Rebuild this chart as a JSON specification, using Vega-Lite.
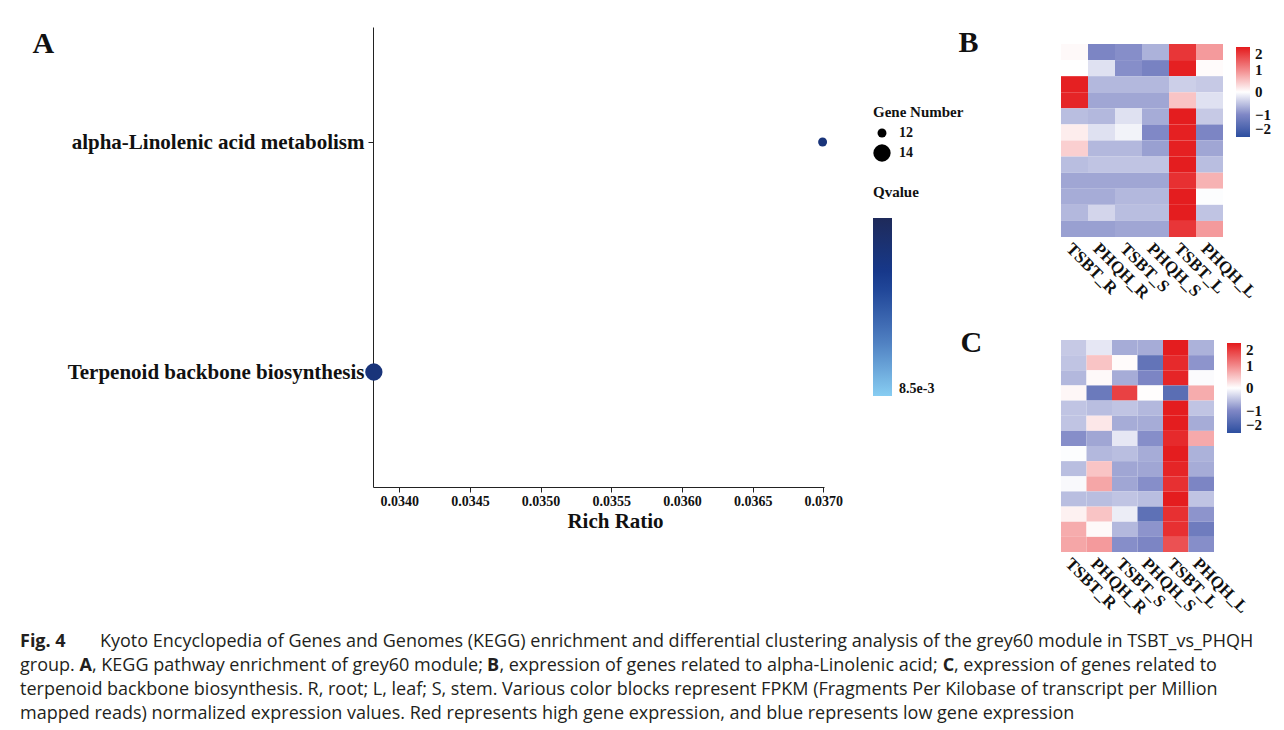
{
  "$schema": "https://vega.github.io/schema/vega-lite/v6.json",
  "background": "white",
  "padding": {"left": 20, "top": 27, "right": 0, "bottom": 0},
  "config": {
    "view": {"stroke": null},
    "font": "Liberation Serif",
    "axis": {"grid": false, "labelColor": "#111", "titleColor": "#111", "domainColor": "#222", "tickColor": "#222", "labelFont": "Liberation Serif", "titleFont": "Liberation Serif"},
    "legend": {"labelFont": "Liberation Serif", "titleFont": "Liberation Serif", "labelColor": "#111", "titleColor": "#111"}
  },
  "datasets": {
    "pathways": [
      {"pathway": "alpha-Linolenic acid metabolism", "richRatio": 0.036995, "geneNumber": 12, "qvalue": 0.0089},
      {"pathway": "Terpenoid backbone biosynthesis", "richRatio": 0.03382, "geneNumber": 14, "qvalue": 0.0089}
    ],
    "heatB": [
      {"g":1,"s":"TSBT_R","z":0.05},{"g":1,"s":"PHQH_R","z":-1.05},{"g":1,"s":"TSBT_S","z":-0.95},{"g":1,"s":"PHQH_S","z":-0.65},{"g":1,"s":"TSBT_L","z":1.75},{"g":1,"s":"PHQH_L","z":0.85},
      {"g":2,"s":"TSBT_R","z":0},{"g":2,"s":"PHQH_R","z":-0.25},{"g":2,"s":"TSBT_S","z":-0.95},{"g":2,"s":"PHQH_S","z":-1.1},{"g":2,"s":"TSBT_L","z":1.95},{"g":2,"s":"PHQH_L","z":0.03},
      {"g":3,"s":"TSBT_R","z":1.95},{"g":3,"s":"PHQH_R","z":-0.6},{"g":3,"s":"TSBT_S","z":-0.6},{"g":3,"s":"PHQH_S","z":-0.6},{"g":3,"s":"TSBT_L","z":-0.4},{"g":3,"s":"PHQH_L","z":-0.45},
      {"g":4,"s":"TSBT_R","z":1.9},{"g":4,"s":"PHQH_R","z":-0.75},{"g":4,"s":"TSBT_S","z":-0.75},{"g":4,"s":"PHQH_S","z":-0.75},{"g":4,"s":"TSBT_L","z":0.5},{"g":4,"s":"PHQH_L","z":-0.25},
      {"g":5,"s":"TSBT_R","z":-0.55},{"g":5,"s":"PHQH_R","z":-0.6},{"g":5,"s":"TSBT_S","z":-0.25},{"g":5,"s":"PHQH_S","z":-0.7},{"g":5,"s":"TSBT_L","z":1.97},{"g":5,"s":"PHQH_L","z":-0.45},
      {"g":6,"s":"TSBT_R","z":0.15},{"g":6,"s":"PHQH_R","z":-0.25},{"g":6,"s":"TSBT_S","z":-0.1},{"g":6,"s":"PHQH_S","z":-1.0},{"g":6,"s":"TSBT_L","z":1.95},{"g":6,"s":"PHQH_L","z":-1.05},
      {"g":7,"s":"TSBT_R","z":0.4},{"g":7,"s":"PHQH_R","z":-0.6},{"g":7,"s":"TSBT_S","z":-0.6},{"g":7,"s":"PHQH_S","z":-0.8},{"g":7,"s":"TSBT_L","z":1.95},{"g":7,"s":"PHQH_L","z":-0.75},
      {"g":8,"s":"TSBT_R","z":-0.55},{"g":8,"s":"PHQH_R","z":-0.5},{"g":8,"s":"TSBT_S","z":-0.5},{"g":8,"s":"PHQH_S","z":-0.5},{"g":8,"s":"TSBT_L","z":1.97},{"g":8,"s":"PHQH_L","z":-0.55},
      {"g":9,"s":"TSBT_R","z":-0.75},{"g":9,"s":"PHQH_R","z":-0.75},{"g":9,"s":"TSBT_S","z":-0.75},{"g":9,"s":"PHQH_S","z":-0.75},{"g":9,"s":"TSBT_L","z":1.8},{"g":9,"s":"PHQH_L","z":0.65},
      {"g":10,"s":"TSBT_R","z":-0.7},{"g":10,"s":"PHQH_R","z":-0.7},{"g":10,"s":"TSBT_S","z":-0.6},{"g":10,"s":"PHQH_S","z":-0.6},{"g":10,"s":"TSBT_L","z":1.97},{"g":10,"s":"PHQH_L","z":-0.02},
      {"g":11,"s":"TSBT_R","z":-0.6},{"g":11,"s":"PHQH_R","z":-0.35},{"g":11,"s":"TSBT_S","z":-0.55},{"g":11,"s":"PHQH_S","z":-0.55},{"g":11,"s":"TSBT_L","z":1.97},{"g":11,"s":"PHQH_L","z":-0.5},
      {"g":12,"s":"TSBT_R","z":-0.8},{"g":12,"s":"PHQH_R","z":-0.8},{"g":12,"s":"TSBT_S","z":-0.75},{"g":12,"s":"PHQH_S","z":-0.75},{"g":12,"s":"TSBT_L","z":1.75},{"g":12,"s":"PHQH_L","z":0.85}
    ],
    "heatC": [
      {"g":1,"s":"TSBT_R","z":-0.45},{"g":1,"s":"PHQH_R","z":-0.2},{"g":1,"s":"TSBT_S","z":-0.7},{"g":1,"s":"PHQH_S","z":-0.7},{"g":1,"s":"TSBT_L","z":1.97},{"g":1,"s":"PHQH_L","z":-0.65},
      {"g":2,"s":"TSBT_R","z":-0.5},{"g":2,"s":"PHQH_R","z":0.5},{"g":2,"s":"TSBT_S","z":0.03},{"g":2,"s":"PHQH_S","z":-1.35},{"g":2,"s":"TSBT_L","z":1.85},{"g":2,"s":"PHQH_L","z":-0.9},
      {"g":3,"s":"TSBT_R","z":-0.6},{"g":3,"s":"PHQH_R","z":0.05},{"g":3,"s":"TSBT_S","z":-0.7},{"g":3,"s":"PHQH_S","z":-1.05},{"g":3,"s":"TSBT_L","z":1.9},{"g":3,"s":"PHQH_L","z":-0.03},
      {"g":4,"s":"TSBT_R","z":0.07},{"g":4,"s":"PHQH_R","z":-1.25},{"g":4,"s":"TSBT_S","z":1.65},{"g":4,"s":"PHQH_S","z":0.02},{"g":4,"s":"TSBT_L","z":-1.45},{"g":4,"s":"PHQH_L","z":0.7},
      {"g":5,"s":"TSBT_R","z":-0.5},{"g":5,"s":"PHQH_R","z":-0.55},{"g":5,"s":"TSBT_S","z":-0.5},{"g":5,"s":"PHQH_S","z":-0.6},{"g":5,"s":"TSBT_L","z":1.97},{"g":5,"s":"PHQH_L","z":-0.5},
      {"g":6,"s":"TSBT_R","z":-0.5},{"g":6,"s":"PHQH_R","z":0.2},{"g":6,"s":"TSBT_S","z":-0.7},{"g":6,"s":"PHQH_S","z":-0.7},{"g":6,"s":"TSBT_L","z":1.97},{"g":6,"s":"PHQH_L","z":-0.7},
      {"g":7,"s":"TSBT_R","z":-0.95},{"g":7,"s":"PHQH_R","z":-0.75},{"g":7,"s":"TSBT_S","z":-0.2},{"g":7,"s":"PHQH_S","z":-0.95},{"g":7,"s":"TSBT_L","z":1.85},{"g":7,"s":"PHQH_L","z":0.72},
      {"g":8,"s":"TSBT_R","z":-0.02},{"g":8,"s":"PHQH_R","z":-0.6},{"g":8,"s":"TSBT_S","z":-0.55},{"g":8,"s":"PHQH_S","z":-0.7},{"g":8,"s":"TSBT_L","z":1.97},{"g":8,"s":"PHQH_L","z":-0.65},
      {"g":9,"s":"TSBT_R","z":-0.55},{"g":9,"s":"PHQH_R","z":0.5},{"g":9,"s":"TSBT_S","z":-0.75},{"g":9,"s":"PHQH_S","z":-0.75},{"g":9,"s":"TSBT_L","z":1.9},{"g":9,"s":"PHQH_L","z":-0.7},
      {"g":10,"s":"TSBT_R","z":-0.05},{"g":10,"s":"PHQH_R","z":0.75},{"g":10,"s":"TSBT_S","z":-0.75},{"g":10,"s":"PHQH_S","z":-0.95},{"g":10,"s":"TSBT_L","z":1.8},{"g":10,"s":"PHQH_L","z":-1.05},
      {"g":11,"s":"TSBT_R","z":-0.55},{"g":11,"s":"PHQH_R","z":-0.55},{"g":11,"s":"TSBT_S","z":-0.5},{"g":11,"s":"PHQH_S","z":-0.55},{"g":11,"s":"TSBT_L","z":1.97},{"g":11,"s":"PHQH_L","z":-0.5},
      {"g":12,"s":"TSBT_R","z":0.12},{"g":12,"s":"PHQH_R","z":0.5},{"g":12,"s":"TSBT_S","z":-0.15},{"g":12,"s":"PHQH_S","z":-1.4},{"g":12,"s":"TSBT_L","z":1.8},{"g":12,"s":"PHQH_L","z":-0.9},
      {"g":13,"s":"TSBT_R","z":0.7},{"g":13,"s":"PHQH_R","z":0.05},{"g":13,"s":"TSBT_S","z":-0.6},{"g":13,"s":"PHQH_S","z":-0.9},{"g":13,"s":"TSBT_L","z":1.8},{"g":13,"s":"PHQH_L","z":-1.2},
      {"g":14,"s":"TSBT_R","z":0.75},{"g":14,"s":"PHQH_R","z":0.85},{"g":14,"s":"TSBT_S","z":-0.95},{"g":14,"s":"PHQH_S","z":-1.05},{"g":14,"s":"TSBT_L","z":1.5},{"g":14,"s":"PHQH_L","z":-0.95}
    ],
    "caption": [
      {"line": 1, "part": "b1", "text": "Fig. 4"},
      {"line": 1, "part": "p1", "text": "Kyoto Encyclopedia of Genes and Genomes (KEGG) enrichment and differential clustering analysis of the grey60 module in TSBT_vs_PHQH"},
      {"line": 2, "part": "p0", "text": "group."},
      {"line": 2, "part": "bA", "text": "A"},
      {"line": 2, "part": "pA", "text": ", KEGG pathway enrichment of grey60 module;"},
      {"line": 2, "part": "bB", "text": "B"},
      {"line": 2, "part": "pB", "text": ", expression of genes related to alpha-Linolenic acid;"},
      {"line": 2, "part": "bC", "text": "C"},
      {"line": 2, "part": "pC", "text": ", expression of genes related to"},
      {"line": 3, "part": "p0", "text": "terpenoid backbone biosynthesis. R, root; L, leaf; S, stem. Various color blocks represent FPKM (Fragments Per Kilobase of transcript per Million"},
      {"line": 4, "part": "p0", "text": "mapped reads) normalized expression values. Red represents high gene expression, and blue represents low gene expression"}
    ]
  },
  "vconcat": [
    {
      "hconcat": [
        {
          "width": 451,
          "height": 460,
          "data": {"name": "pathways"},
          "mark": {"type": "circle", "opacity": 1},
          "encoding": {
            "x": {
              "field": "richRatio", "type": "quantitative",
              "scale": {"domain": [0.033814, 0.037005], "nice": false, "zero": false},
              "axis": {"values": [0.034, 0.0345, 0.035, 0.0355, 0.036, 0.0365, 0.037], "format": ".4f", "title": "Rich Ratio", "titleX": 242, "labelFontSize": 14, "labelFontWeight": "bold", "titleFontSize": 21, "titleFontWeight": "bold", "tickSize": 5, "labelPadding": 2, "titlePadding": 2, "labelFlush": false}
            },
            "y": {
              "field": "pathway", "type": "nominal",
              "sort": ["alpha-Linolenic acid metabolism", "Terpenoid backbone biosynthesis"],
              "scale": {"type": "point", "padding": 0.5},
              "axis": {"title": "A", "titleAngle": 0, "titleX": -341, "titleY": 25, "titleAlign": "left", "titleBaseline": "alphabetic", "titleFontSize": 30, "titleFontWeight": "bold", "labelFontSize": 21, "labelFontWeight": "bold", "labelLimit": 0, "tickSize": 5, "labelPadding": 4}
            },
            "size": {
              "field": "geneNumber", "type": "quantitative",
              "scale": {"domain": [12, 14], "range": [80, 300]},
              "legend": {"title": "Gene Number", "orient": "none", "direction": "vertical", "legendX": 500, "legendY": 78, "values": [12, 14], "format": "d", "titleFontSize": 15, "titleFontWeight": "bold", "titlePadding": 6, "labelFontSize": 14, "labelFontWeight": "bold", "labelOffset": 8, "rowPadding": 4, "symbolFillColor": "#000", "symbolStrokeColor": "#000", "symbolStrokeWidth": 0, "symbolOpacity": 1, "symbolType": "circle"}
            },
            "color": {
              "field": "qvalue", "type": "quantitative",
              "scale": {"domain": [0.0085, 0.009], "range": ["#87cdf2", "#4a78bd", "#163a8f", "#1e2a5a"], "interpolate": "rgb"},
              "legend": {"title": "Qvalue", "orient": "none", "legendX": 500, "legendY": 158, "direction": "vertical", "gradientLength": 178, "gradientThickness": 19, "values": [0.0085], "format": ".1e", "titleFontSize": 15, "titleFontWeight": "bold", "titlePadding": 18, "labelFontSize": 14, "labelFontWeight": "bold", "labelOffset": 7, "labelBaseline": "middle"}
            }
          }
        },
        {
          "vconcat": [
            {
              "width": 162,
              "height": 210,
              "data": {"name": "heatB"},
              "mark": {"type": "rect"},
              "encoding": {
                "x": {"field": "s", "type": "nominal", "sort": ["TSBT_R", "PHQH_R", "TSBT_S", "PHQH_S", "TSBT_L", "PHQH_L"], "scale": {"paddingInner": 0, "paddingOuter": 0}, "axis": {"title": null, "labelAngle": 45, "domain": false, "ticks": false, "labelFontSize": 17, "labelFontWeight": "bold", "labelPadding": 3}},
                "y": {"field": "g", "type": "ordinal", "scale": {"paddingInner": 0, "paddingOuter": 0, "range": [17, 210]}, "axis": {"labels": false, "ticks": false, "domain": false, "title": "B", "titleAngle": 0, "titleX": -103, "titleY": 24, "titleAlign": "left", "titleBaseline": "alphabetic", "titleFontSize": 30, "titleFontWeight": "bold"}},
                "color": {"field": "z", "type": "quantitative", "scale": {"domain": [-2, -1, 0, 1, 2], "range": ["#2c4e9f", "#8088c6", "#ffffff", "#f2888a", "#e41a1c"], "interpolate": "rgb"}, "legend": {"title": null, "orient": "none", "direction": "vertical", "legendX": 175, "legendY": 20, "values": [-2, -1, 0, 1, 2], "labelOverlap": false, "gradientLength": 90, "gradientThickness": 14, "labelFontSize": 15, "labelFontWeight": "bold", "labelOffset": 5, "labelBaseline": "middle"}}
              }
            },
            {
              "width": 153,
              "height": 212,
              "data": {"name": "heatC"},
              "mark": {"type": "rect"},
              "encoding": {
                "x": {"field": "s", "type": "nominal", "sort": ["TSBT_R", "PHQH_R", "TSBT_S", "PHQH_S", "TSBT_L", "PHQH_L"], "scale": {"paddingInner": 0, "paddingOuter": 0}, "axis": {"title": null, "labelAngle": 45, "domain": false, "ticks": false, "labelFontSize": 17, "labelFontWeight": "bold", "labelPadding": 3}},
                "y": {"field": "g", "type": "ordinal", "scale": {"paddingInner": 0, "paddingOuter": 0}, "axis": {"labels": false, "ticks": false, "domain": false, "title": "C", "titleAngle": 0, "titleX": -101, "titleY": 11, "titleAlign": "left", "titleBaseline": "alphabetic", "titleFontSize": 30, "titleFontWeight": "bold"}},
                "color": {"field": "z", "type": "quantitative", "scale": {"domain": [-2, -1, 0, 1, 2], "range": ["#2c4e9f", "#8088c6", "#ffffff", "#f2888a", "#e41a1c"], "interpolate": "rgb"}, "legend": {"title": null, "values": [-2, -1, 0, 1, 2], "labelOverlap": false, "gradientLength": 90, "gradientThickness": 14, "offset": 10, "padding": 3, "labelFontSize": 15, "labelFontWeight": "bold", "labelOffset": 5, "labelBaseline": "middle"}}
              }
            }
          ],
          "spacing": 25,
          "resolve": {"scale": {"color": "independent", "x": "independent", "y": "independent"}, "legend": {"color": "independent"}}
        }
      ],
      "spacing": 23,
      "align": "none",
      "resolve": {"scale": {"color": "independent", "x": "independent", "y": "independent"}, "legend": {"color": "independent"}}
    },
    {
      "width": 900,
      "height": 72,
      "data": {"name": "caption"},
      "encoding": {
        "x": {"datum": 0, "type": "quantitative", "scale": {"domain": [0, 1], "range": [-353, 547]}, "axis": null},
        "y": {"field": "line", "type": "quantitative", "scale": {"domain": [1, 4], "reverse": true, "nice": false, "zero": false}, "axis": null},
        "text": {"field": "text"}
      },
      "layer": [
        {"transform": [{"filter": "datum.part == 'p0'"}], "mark": {"type": "text", "align": "left", "baseline": "middle", "font": "Open Sans", "fontSize": 18, "color": "#231f20"}},
        {"transform": [{"filter": "datum.part == 'b1'"}], "mark": {"type": "text", "align": "left", "baseline": "middle", "font": "Open Sans", "fontSize": 18, "fontWeight": "bold", "color": "#231f20"}},
        {"transform": [{"filter": "datum.part == 'p1'"}], "mark": {"type": "text", "align": "left", "baseline": "middle", "font": "Open Sans", "fontSize": 18, "color": "#231f20", "dx": 80}},
        {"transform": [{"filter": "datum.part == 'bA'"}], "mark": {"type": "text", "align": "left", "baseline": "middle", "font": "Open Sans", "fontSize": 18, "fontWeight": "bold", "color": "#231f20", "dx": 59.6}},
        {"transform": [{"filter": "datum.part == 'pA'"}], "mark": {"type": "text", "align": "left", "baseline": "middle", "font": "Open Sans", "fontSize": 18, "color": "#231f20", "dx": 72}},
        {"transform": [{"filter": "datum.part == 'bB'"}], "mark": {"type": "text", "align": "left", "baseline": "middle", "font": "Open Sans", "fontSize": 18, "fontWeight": "bold", "color": "#231f20", "dx": 467}},
        {"transform": [{"filter": "datum.part == 'pB'"}], "mark": {"type": "text", "align": "left", "baseline": "middle", "font": "Open Sans", "fontSize": 18, "color": "#231f20", "dx": 479.4}},
        {"transform": [{"filter": "datum.part == 'bC'"}], "mark": {"type": "text", "align": "left", "baseline": "middle", "font": "Open Sans", "fontSize": 18, "fontWeight": "bold", "color": "#231f20", "dx": 922.7}},
        {"transform": [{"filter": "datum.part == 'pC'"}], "mark": {"type": "text", "align": "left", "baseline": "middle", "font": "Open Sans", "fontSize": 18, "color": "#231f20", "dx": 934}}
      ]
    }
  ],
  "spacing": 16,
  "resolve": {"scale": {"color": "independent", "x": "independent", "y": "independent"}, "legend": {"color": "independent"}}
}
